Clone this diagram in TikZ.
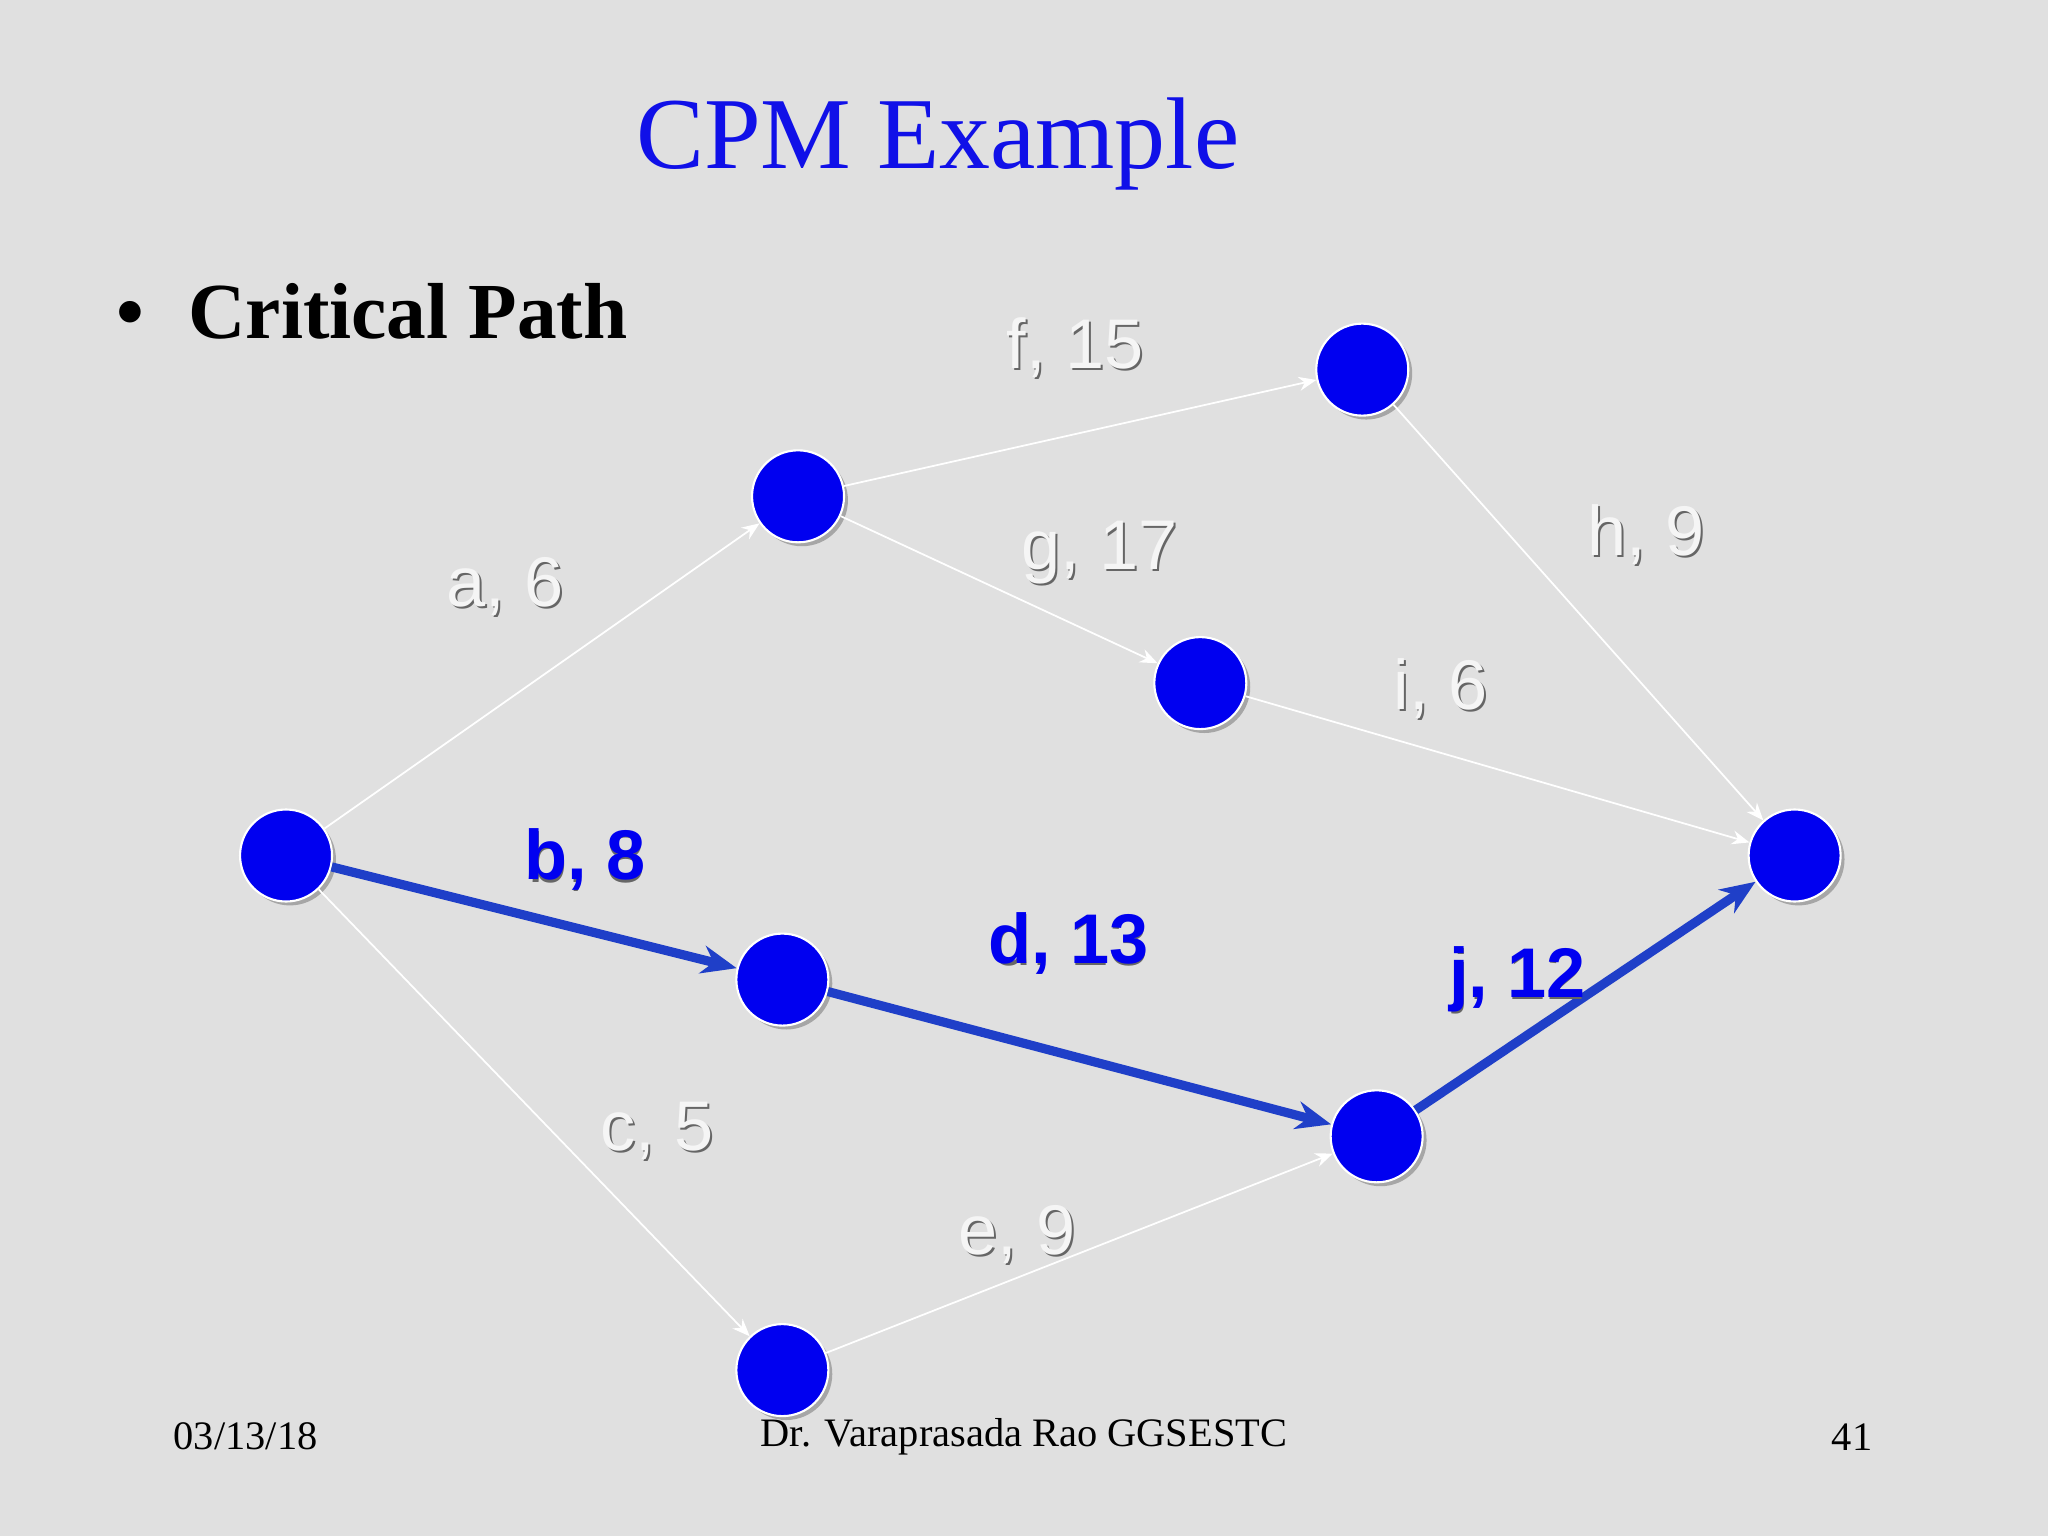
\documentclass[tikz,border=0pt]{standalone}
\usepackage{fontspec}
\setmainfont{Liberation Serif}
\newfontfamily\arialf{Liberation Sans}
\usetikzlibrary{arrows.meta,calc}
\definecolor{bg}{HTML}{E0E0E0}
\definecolor{nodeblue}{HTML}{0000F0}
\definecolor{critblue}{HTML}{1F3FC8}
\definecolor{titleblue}{HTML}{1010E8}
\tikzset{
 ev/.style={circle,fill=nodeblue,draw=white,line width=0.6pt,minimum width=0.92cm,inner sep=0pt},
 evshadow/.style={circle,fill=black!35,minimum width=0.92cm,inner sep=0pt},
 thin edge/.style={draw=white,line width=0.5pt,-{Stealth[length=5pt,width=4pt]}},
 crit edge/.style={draw=critblue,line width=2.6pt,-{Stealth[length=10pt,width=8pt]}},
 lbl/.style={font=\arialf\fontsize{20}{24}\selectfont,text=white!96!black,inner sep=0pt},
 lblsh/.style={font=\arialf\fontsize{20}{24}\selectfont,text=black!60,inner sep=0pt},
 clbl/.style={font=\arialf\bfseries\fontsize{20}{24}\selectfont,text=nodeblue,inner sep=0pt},
 foot/.style={font=\fontsize{11.5}{13}\selectfont,text=black,inner sep=0pt}
}
\newcommand{\elabel}[4]{%
 \node[lblsh] at ($(#2)+(1.5,1.5)$) {#3};
 \node[#4] (#1) at (#2) {#3};}
\begin{document}
\begin{tikzpicture}[x=0.013061cm,y=-0.013061cm]
\fill[bg] (0,0) rectangle (1568,1176);
\useasboundingbox (0,0) rectangle (1568,1176);
\node[font=\fontsize{29}{34}\selectfont,text=titleblue] (title) at (718,110) {CPM Example};
\node[font=\bfseries\fontsize{22.6}{27}\selectfont,anchor=west] (bul) at (80,238) {\textbullet\hspace{0.55em}Critical Path};
\foreach \n/\p in {A/{219,655},B/{611,380},C/{1043,283},D/{919,523},E/{1374,655},F/{599,750},G/{1054,870},H/{599,1049}}{
 \node[evshadow] at ($(\p)+(3,3)$) {};
 \node[ev] (\n) at (\p) {};
}
\draw[thin edge] (A) -- (B);
\draw[thin edge] (B) -- (C);
\draw[thin edge] (B) -- (D);
\draw[thin edge] (C) -- (E);
\draw[thin edge] (D) -- (E);
\draw[thin edge] (A) -- (H);
\draw[thin edge] (H) -- (G);
\draw[crit edge] (A) -- (F);
\draw[crit edge] (F) -- (G);
\draw[crit edge] (G) -- (E);
\elabel{la}{387,449}{a, 6}{lbl}
\elabel{lf}{823,266}{f, 15}{lbl}
\elabel{lg}{842,423}{g, 17}{lbl}
\elabel{lh}{1260,409}{h, 9}{lbl}
\elabel{li}{1103,527}{i, 6}{lbl}
\elabel{lc}{503,866}{c, 5}{lbl}
\elabel{le}{779,945}{e, 9}{lbl}
\elabel{lb}{448,658}{b, 8}{clbl}
\elabel{ld}{818,722}{d, 13}{clbl}
\elabel{lj}{1162,750}{j, 12}{clbl}
\node[foot] (date) at (188,1100) {03/13/18};
\node[foot] (auth) at (784,1100) {Dr. Varaprasada Rao GGSESTC};
\node[foot] (pg) at (1418,1100) {41};
\end{tikzpicture}
\end{document}
